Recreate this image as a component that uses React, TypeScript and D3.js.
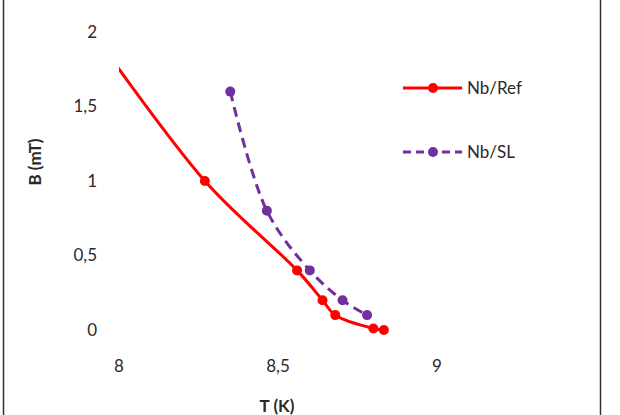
import React, { useEffect, useRef } from 'react';
import * as d3 from 'd3';

// Nb/Ref series (first point sits left of the axis minimum, clipped like in the original)
const refT = [7.9, 8.27, 8.56, 8.64, 8.68, 8.8, 8.833];
const refB = [2.05, 1.0, 0.4, 0.2, 0.1, 0.01, 0.0];

// Nb/SL series
const slT = [8.35, 8.465, 8.6, 8.703, 8.78];
const slB = [1.6, 0.8, 0.4, 0.2, 0.1];

const xTicks = [8, 8.5, 9];
const yTicks = [0, 0.5, 1, 1.5, 2];
const seriesNames = ['Nb/Ref', 'Nb/SL'];

const fmt = (v: number) => String(v).replace('.', ',');

const App = () => {
  const svgRef = useRef<SVGSVGElement>(null);

  useEffect(() => {
    const svg = d3.select(svgRef.current);
    svg.selectAll('*').remove();

    const width = 620;
    const height = 415;
    const font = 'Lato, "Open Sans", sans-serif';
    const fs = 17;
    const textColor = '#2a2a2a';

    // frame lines left and right
    svg.append('line').attr('x1', 3.5).attr('x2', 3.5).attr('y1', 0).attr('y2', height)
      .attr('stroke', '#333').attr('stroke-width', 1.5);
    svg.append('line').attr('x1', 600.5).attr('x2', 600.5).attr('y1', 0).attr('y2', height)
      .attr('stroke', '#333').attr('stroke-width', 1.5);

    const x = d3.scaleLinear().domain([8, 9]).range([119, 437]);
    const y = d3.scaleLinear().domain([0, 2]).range([330, 32]);

    // tick labels
    svg.append('g').selectAll('text')
      .data(yTicks)
      .enter()
      .append('text')
      .attr('x', 97)
      .attr('y', d => y(d))
      .attr('dy', '0.35em')
      .attr('text-anchor', 'end')
      .attr('font-family', font)
      .attr('font-size', fs)
      .attr('fill', textColor)
      .text(d => fmt(d));

    svg.append('g').selectAll('text')
      .data(xTicks)
      .enter()
      .append('text')
      .attr('x', d => x(d))
      .attr('y', 366)
      .attr('dy', '0.35em')
      .attr('text-anchor', 'middle')
      .attr('font-family', font)
      .attr('font-size', fs)
      .attr('fill', textColor)
      .text(d => fmt(d));

    // axis titles
    svg.append('text')
      .attr('transform', 'translate(35,162) rotate(-90)')
      .attr('dy', '0.35em')
      .attr('text-anchor', 'middle')
      .attr('font-family', font)
      .attr('font-size', fs)
      .attr('font-weight', 'bold')
      .attr('fill', textColor)
      .text('B (mT)');

    svg.append('text')
      .attr('x', 277)
      .attr('y', 406)
      .attr('dy', '0.35em')
      .attr('text-anchor', 'middle')
      .attr('font-family', font)
      .attr('font-size', fs)
      .attr('font-weight', 'bold')
      .attr('fill', textColor)
      .text('T (K)');

    svg.append('clipPath').attr('id', 'plotClip')
      .append('rect').attr('x', 119).attr('y', 0).attr('width', width - 119).attr('height', height);

    const line = d3.line<[number, number]>()
      .x(d => x(d[0]))
      .y(d => y(d[1]))
      .curve(d3.curveCatmullRom.alpha(0.5));

    const series = [
      { pts: refT.map((t, i) => [t, refB[i]] as [number, number]), color: '#ff0000', dash: null },
      { pts: slT.map((t, i) => [t, slB[i]] as [number, number]), color: '#7030a0', dash: '10,6' },
    ];

    series.forEach(s => {
      svg.append('path')
        .attr('d', line(s.pts))
        .attr('fill', 'none')
        .attr('stroke', s.color)
        .attr('stroke-width', 3)
        .attr('stroke-dasharray', s.dash)
        .attr('clip-path', 'url(#plotClip)');

      svg.append('g').selectAll('circle')
        .data(s.pts.filter(d => d[0] >= 8))
        .enter()
        .append('circle')
        .attr('cx', d => x(d[0]))
        .attr('cy', d => y(d[1]))
        .attr('r', 5)
        .attr('fill', s.color);
    });

    // legend
    const legendY = [88, 152];
    series.forEach((s, i) => {
      svg.append('line')
        .attr('x1', 403).attr('x2', 462)
        .attr('y1', legendY[i]).attr('y2', legendY[i])
        .attr('stroke', s.color)
        .attr('stroke-width', 3)
        .attr('stroke-dasharray', s.dash ? '8,5' : null);
      svg.append('circle')
        .attr('cx', 433).attr('cy', legendY[i]).attr('r', 5)
        .attr('fill', s.color);
      svg.append('text')
        .attr('x', 467)
        .attr('y', legendY[i])
        .attr('dy', '0.35em')
        .attr('font-family', font)
        .attr('font-size', fs)
        .attr('fill', textColor)
        .text(seriesNames[i]);
    });
  }, []);

  return (
    <svg
      ref={svgRef}
      width={620}
      height={415}
      style={{ position: 'absolute', left: 0, top: 0, background: '#fff' }}
    />
  );
};

export default App;
